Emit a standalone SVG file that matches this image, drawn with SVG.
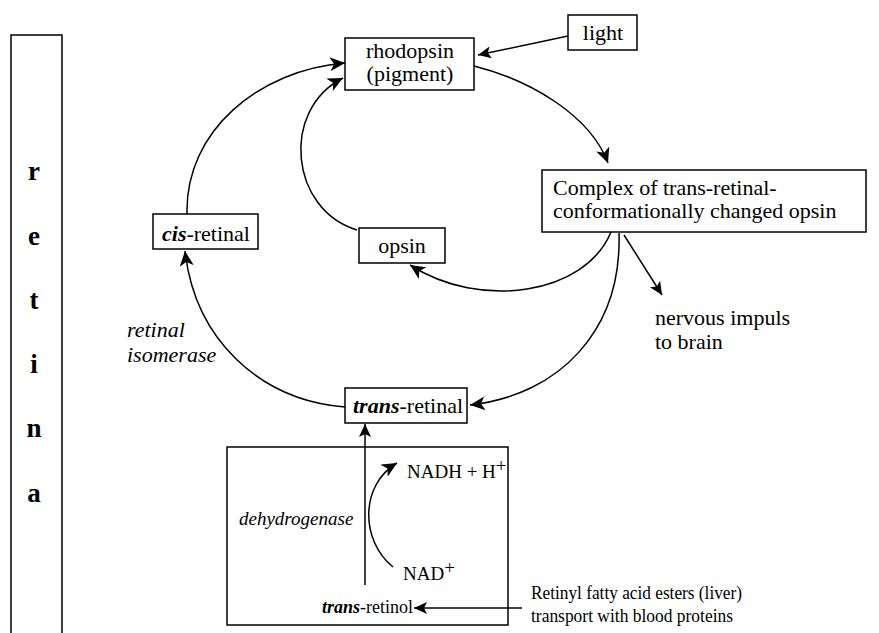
<svg xmlns="http://www.w3.org/2000/svg" width="879" height="633" viewBox="0 0 879 633">
<style>
.t{font-size:22px}
.s{font-size:19px}
.b{font-weight:bold}
.i{font-style:italic}
.big{font-size:27px;font-weight:bold;text-anchor:middle}
rect{fill:#fff;stroke:#000;stroke-width:1.5}
.c path,.c line{fill:none;stroke:#000;stroke-width:1.5}
</style>
<defs>
<marker id="ah" markerUnits="userSpaceOnUse" markerWidth="17" markerHeight="14" refX="15" refY="7" orient="auto">
<path d="M0,0 L15,7 L0,14 L4,7 Z" fill="#000"/>
</marker>
<marker id="ahs" markerUnits="userSpaceOnUse" markerWidth="15" markerHeight="12" refX="13" refY="6" orient="auto">
<path d="M0,0 L13,6 L0,12 L3,6 Z" fill="#000"/>
</marker>
</defs>
<g id="retina">
<path d="M11,640 V35 H62 V640" fill="none" stroke="#000" stroke-width="1.5"/>
<text font-family="Liberation Serif" class="big" x="34" y="180">r</text>
<text font-family="Liberation Serif" class="big" x="34" y="245">e</text>
<text font-family="Liberation Serif" class="big" x="34" y="309">t</text>
<text font-family="Liberation Serif" class="big" x="34" y="373">i</text>
<text font-family="Liberation Serif" class="big" x="34" y="437">n</text>
<text font-family="Liberation Serif" class="big" x="34" y="502">a</text>
</g>
<g id="rhodopsin">
<rect x="345" y="38" width="129" height="52"/>
<text font-family="Liberation Serif" class="t" x="410" y="58" text-anchor="middle">rhodopsin</text>
<text font-family="Liberation Serif" class="t" x="410" y="81" text-anchor="middle">(pigment)</text>
</g>
<g id="light">
<rect x="568" y="15" width="69" height="35"/>
<text font-family="Liberation Serif" class="t" x="603" y="40" text-anchor="middle">light</text>
</g>
<g id="complex">
<rect x="542" y="170" width="324" height="62"/>
<text font-family="Liberation Serif" class="t" x="553" y="195">Complex of trans-retinal-</text>
<text font-family="Liberation Serif" class="t" x="553" y="218">conformationally changed opsin</text>
</g>
<g id="cis-retinal">
<rect x="153" y="214" width="105" height="35"/>
<text font-family="Liberation Serif" class="t" x="162" y="241"><tspan class="b i">cis</tspan>-retinal</text>
</g>
<g id="opsin">
<rect x="359" y="228" width="86" height="35"/>
<text font-family="Liberation Serif" class="t" x="402" y="253" text-anchor="middle">opsin</text>
</g>
<g id="nervous">
<text font-family="Liberation Serif" class="t" x="655" y="325">nervous impuls</text>
<text font-family="Liberation Serif" class="t" x="655" y="349">to brain</text>
</g>
<g id="isomerase">
<text font-family="Liberation Serif" class="t i" x="127" y="337">retinal</text>
<text font-family="Liberation Serif" class="t i" x="127" y="362">isomerase</text>
</g>
<g id="trans-retinal">
<rect x="345" y="388" width="122" height="35"/>
<text font-family="Liberation Serif" class="t" x="353" y="413"><tspan class="b i">trans</tspan>-retinal</text>
</g>
<g id="dehydrogenase-box">
<rect x="227" y="447" width="281" height="178"/>
<text font-family="Liberation Serif" class="s i" x="239" y="525">dehydrogenase</text>
</g>
<g id="nadh">
<text font-family="Liberation Serif" class="s" x="407" y="478">NADH + H<tspan dy="-6">+</tspan></text>
</g>
<g id="nad">
<text font-family="Liberation Serif" class="s" x="403" y="580">NAD<tspan dy="-6">+</tspan></text>
</g>
<g id="trans-retinol">
<text font-family="Liberation Serif" font-size="18" x="322" y="613"><tspan class="b i">trans</tspan>-retinol</text>
</g>
<g id="retinyl">
<text font-family="Liberation Serif" font-size="18.5" x="531" y="599" textLength="211" lengthAdjust="spacingAndGlyphs">Retinyl fatty acid esters (liver)</text>
<text font-family="Liberation Serif" font-size="18.5" x="531" y="622" textLength="202" lengthAdjust="spacingAndGlyphs">transport with blood proteins</text>
</g>
<g class="c" id="connectors">
<line x1="568" y1="36" x2="478" y2="55" marker-end="url(#ahs)"/>
<path d="M474,66 C530,80 590,115 608,163" marker-end="url(#ah)"/>
<path d="M619,233 C622,330 560,395 470,405" marker-end="url(#ah)"/>
<path d="M611,232 C585,295 480,310 410,265" marker-end="url(#ah)"/>
<line x1="624" y1="235" x2="662" y2="295" marker-end="url(#ahs)"/>
<path d="M345,407 C260,400 195,340 185,251" marker-end="url(#ah)"/>
<path d="M187,214 C185,130 260,70 345,63" marker-end="url(#ah)"/>
<path d="M357,230 C290,210 280,110 343,78" marker-end="url(#ah)"/>
<line x1="365" y1="585" x2="365" y2="424" marker-end="url(#ahs)"/>
<path d="M393,567 C360,540 360,485 397,463" marker-end="url(#ah)"/>
<line x1="522" y1="608" x2="414" y2="608" marker-end="url(#ahs)"/>
</g>
</svg>
